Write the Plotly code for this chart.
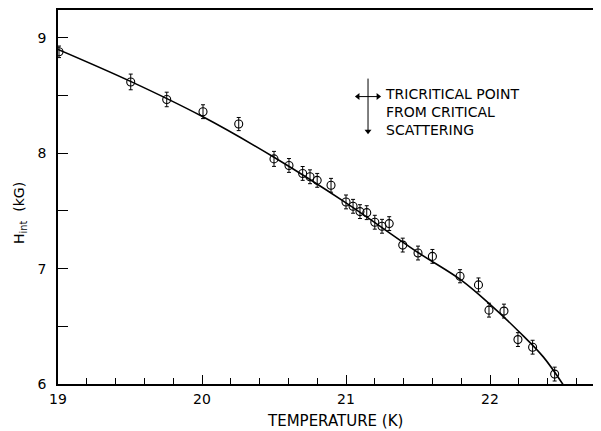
import plotly.graph_objects as go

# Measured points (temperature in K, internal field in kG)
temp = [19.007, 19.505, 19.755, 20.007, 20.255, 20.50, 20.604, 20.699, 20.75, 20.80,
        20.896, 21.00, 21.049, 21.097, 21.144, 21.20, 21.25, 21.30, 21.394, 21.50,
        21.60, 21.792, 21.92, 21.993, 22.097, 22.194, 22.296, 22.449]
h_int = [8.879, 8.618, 8.466, 8.36, 8.253, 7.951, 7.894, 7.825, 7.796, 7.765,
         7.722, 7.578, 7.54, 7.494, 7.485, 7.402, 7.367, 7.39, 7.204, 7.135,
         7.106, 6.934, 6.859, 6.64, 6.632, 6.385, 6.319, 6.086]
h_err = [0.05, 0.068, 0.063, 0.06, 0.057, 0.065, 0.06, 0.06, 0.06, 0.06,
         0.06, 0.06, 0.06, 0.06, 0.06, 0.06, 0.06, 0.06, 0.06, 0.06,
         0.06, 0.057, 0.06, 0.06, 0.06, 0.06, 0.06, 0.06]

# Fitted curve
curve_t = [19.0, 19.5, 20.0, 20.5, 21.0, 21.5, 21.8, 22.0, 22.2, 22.37, 22.51]
curve_h = [8.90, 8.625, 8.32, 7.965, 7.57, 7.14, 6.90, 6.69, 6.455, 6.235, 5.99]

# Tricritical point marker (from critical scattering)
tc_t = 21.153
tc_t_err = 0.07
tc_arrow_top = 8.647
tc_arrow_tip = 8.19
tc_bar_h = 8.491

x_ticks = [19, 20, 21, 22]
y_ticks = [6, 7, 8, 9]

FONT = "DejaVu Sans"

# page has an 8px body margin: figure placed at (8, 8)
W, H = 593, 423
ML, MT, MB, MR = 50, 0, 47, 0
PW, PH = W - ML - MR, H - MT - MB   # 543 x 376

fig = go.Figure()
fig.add_trace(go.Scatter(
    x=curve_t, y=curve_h, mode="lines", line=dict(color="black", width=1.6, shape="spline"),
    hoverinfo="skip", showlegend=False))
fig.add_trace(go.Scatter(
    x=temp, y=h_int, mode="markers",
    marker=dict(symbol="circle-open", size=8, color="black", line=dict(width=1.1)),
    error_y=dict(type="data", array=h_err, color="black", thickness=1, width=2),
    showlegend=False))

# tricritical marker: vertical arrow + horizontal double arrow
fig.add_trace(go.Scatter(
    x=[tc_t, tc_t], y=[tc_arrow_top, tc_arrow_tip], mode="lines",
    line=dict(color="black", width=1), hoverinfo="skip", showlegend=False))
fig.add_trace(go.Scatter(
    x=[tc_t], y=[tc_arrow_tip], mode="markers",
    marker=dict(symbol="triangle-down", size=6, color="black"), hoverinfo="skip", showlegend=False))
fig.add_trace(go.Scatter(
    x=[tc_t - tc_t_err, tc_t + tc_t_err], y=[tc_bar_h, tc_bar_h], mode="lines",
    line=dict(color="black", width=1), hoverinfo="skip", showlegend=False))
fig.add_trace(go.Scatter(
    x=[tc_t - tc_t_err, tc_t + tc_t_err], y=[tc_bar_h, tc_bar_h], mode="markers",
    marker=dict(symbol=["triangle-left", "triangle-right"], size=6, color="black"),
    hoverinfo="skip", showlegend=False))

fig.add_annotation(x=21.257, y=8.36, xref="x", yref="y", xanchor="left", yanchor="middle",
                   align="left", showarrow=False,
                   text="TRICRITICAL POINT<br>FROM CRITICAL<br>SCATTERING",
                   font=dict(family=FONT, size=14, color="black"))

# axis titles (page px converted to plot-area paper coords)
fig.add_annotation(x=(335 - 58) / PW, y=(384 - 421) / PH, xref="paper", yref="paper",
                   xanchor="center", yanchor="middle", showarrow=False,
                   text="TEMPERATURE (K)", font=dict(family=FONT, size=15, color="black"))
fig.add_annotation(x=(20 - 58) / PW, y=(384 - 212) / PH, xref="paper", yref="paper",
                   xanchor="center", yanchor="middle", showarrow=False, textangle=-90,
                   text="H<sub>int</sub>  (kG)", font=dict(family=FONT, size=14, color="black"))

fig.update_layout(
    width=W, height=H,
    margin=dict(l=ML, r=MR, t=MT, b=MB, pad=0),
    paper_bgcolor="white", plot_bgcolor="white",
    font=dict(family=FONT, size=14, color="black"),
    xaxis=dict(range=[19, 19 + PW / 144], tickvals=x_ticks, ticktext=[str(v) for v in x_ticks],
               ticks="inside", ticklen=9, tickwidth=1, tickcolor="black",
               minor=dict(dtick=0.2, tick0=19, ticks="inside", ticklen=6, tickwidth=1, tickcolor="black"),
               showline=True, linecolor="black", linewidth=1.5, mirror=True,
               showgrid=False, zeroline=False, ticklabelstandoff=1),
    yaxis=dict(range=[6, 6 + PH / 116], tickvals=y_ticks, ticktext=[str(v) for v in y_ticks],
               ticks="inside", ticklen=10, tickwidth=1, tickcolor="black",
               minor=dict(dtick=0.5, tick0=6, ticks="inside", ticklen=10, tickwidth=1, tickcolor="black"),
               showline=True, linecolor="black", linewidth=1.5, mirror=False,
               showgrid=False, zeroline=False, ticklabelstandoff=7),
)

fig.write_html("out.html")
